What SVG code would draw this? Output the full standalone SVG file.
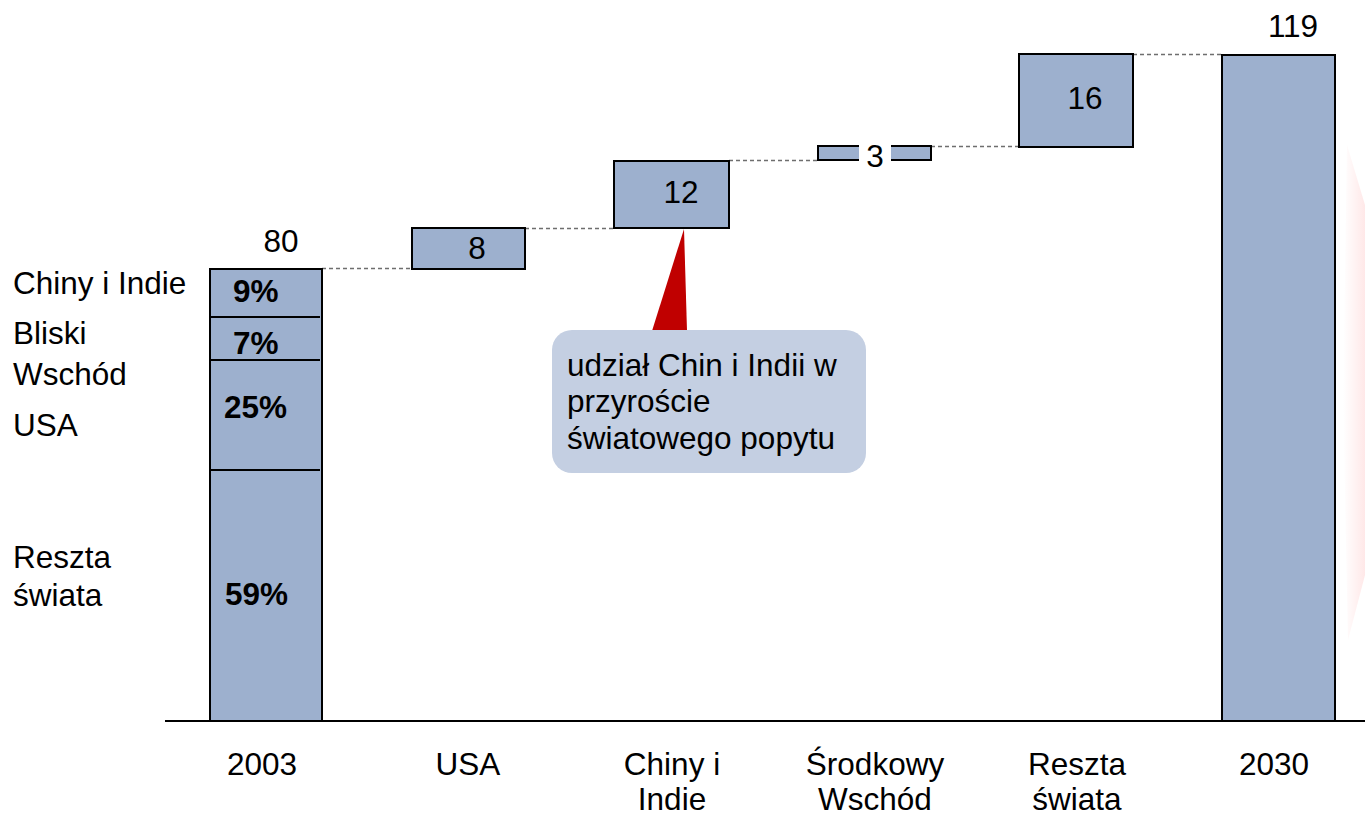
<svg xmlns="http://www.w3.org/2000/svg" width="1365" height="815" viewBox="0 0 1365 815">
<style>
text{font-family:"Liberation Sans",Arial,sans-serif;font-size:31.5px;fill:#000}
.b{font-weight:bold}
.m{text-anchor:middle}
.bar{fill:#9db0ce;stroke:#000;stroke-width:2}
.div{stroke:#000;stroke-width:2}
.dash{stroke:#6e6e6e;stroke-width:1.5;stroke-dasharray:4 3;fill:none}
</style>
<defs>
<linearGradient id="pk" x1="0" y1="0" x2="1" y2="0">
<stop offset="0" stop-color="#ffffff"/>
<stop offset="1" stop-color="#ffe8e8"/>
</linearGradient>
</defs>
<rect width="1365" height="815" fill="#fff"/>
<polygon points="1347,145 1365,205 1365,575 1348,640 1343,400" fill="url(#pk)"/>

<g id="connectors">
<line class="dash" x1="322" y1="268.5" x2="412" y2="268.5"/>
<line class="dash" x1="525" y1="228.5" x2="614" y2="228.5"/>
<line class="dash" x1="729" y1="160.5" x2="818" y2="160.5"/>
<line class="dash" x1="931" y1="146.5" x2="1019" y2="146.5"/>
<line class="dash" x1="1133" y1="54.5" x2="1222" y2="54.5"/>
</g>

<g id="bar-2003">
<rect class="bar" x="210" y="269" width="112" height="452"/>
<line class="div" x1="210" y1="317" x2="320" y2="317"/>
<line class="div" x1="210" y1="360" x2="320" y2="360"/>
<line class="div" x1="210" y1="470" x2="320" y2="470"/>
<text class="m" x="281" y="252">80</text>
<text class="b" x="233" y="302">9%</text>
<text class="b" x="233" y="354">7%</text>
<text class="b" x="224" y="418">25%</text>
<text class="b" x="225" y="605">59%</text>
</g>

<g id="legend">
<text x="13" y="294">Chiny i Indie</text>
<text x="13" y="344">Bliski</text>
<text x="13" y="385">Wschód</text>
<text x="13" y="436">USA</text>
<text x="13" y="568">Reszta</text>
<text x="13" y="606">świata</text>
</g>

<g id="bar-usa">
<rect class="bar" x="412" y="228" width="113" height="41"/>
<text class="m" x="477" y="259">8</text>
</g>

<g id="bar-chiny">
<rect class="bar" x="614" y="161" width="115" height="67"/>
<text class="m" x="681" y="203">12</text>
</g>

<g id="bar-wschod">
<rect class="bar" x="818" y="146" width="113" height="14"/>
<rect x="859" y="145" width="32" height="22" fill="#fff"/>
<text class="m" x="875" y="167">3</text>
</g>

<g id="bar-reszta">
<rect class="bar" x="1019" y="54" width="114" height="93"/>
<text class="m" x="1085" y="109">16</text>
</g>

<g id="bar-2030">
<rect class="bar" x="1222" y="55" width="113" height="666"/>
<text class="m" x="1293" y="37">119</text>
</g>

<g id="axis">
<line x1="165" y1="721" x2="1365" y2="721" stroke="#000" stroke-width="2"/>
<text class="m" x="262" y="775">2003</text>
<text class="m" x="468" y="775">USA</text>
<text class="m" x="672" y="775">Chiny i</text>
<text class="m" x="672" y="810">Indie</text>
<text class="m" x="875" y="775">Środkowy</text>
<text class="m" x="875" y="810">Wschód</text>
<text class="m" x="1077" y="775">Reszta</text>
<text class="m" x="1077" y="810">świata</text>
<text class="m" x="1274" y="775">2030</text>
</g>

<g id="callout">
<polygon points="684,229 652,331 687,331" fill="#c00000"/>
<rect x="552" y="330" width="314" height="143" rx="20" fill="#c4cfe2"/>
<text x="567" y="376">udział Chin i Indii w</text>
<text x="567" y="412">przyroście</text>
<text x="567" y="449">światowego popytu</text>
</g>
</svg>
